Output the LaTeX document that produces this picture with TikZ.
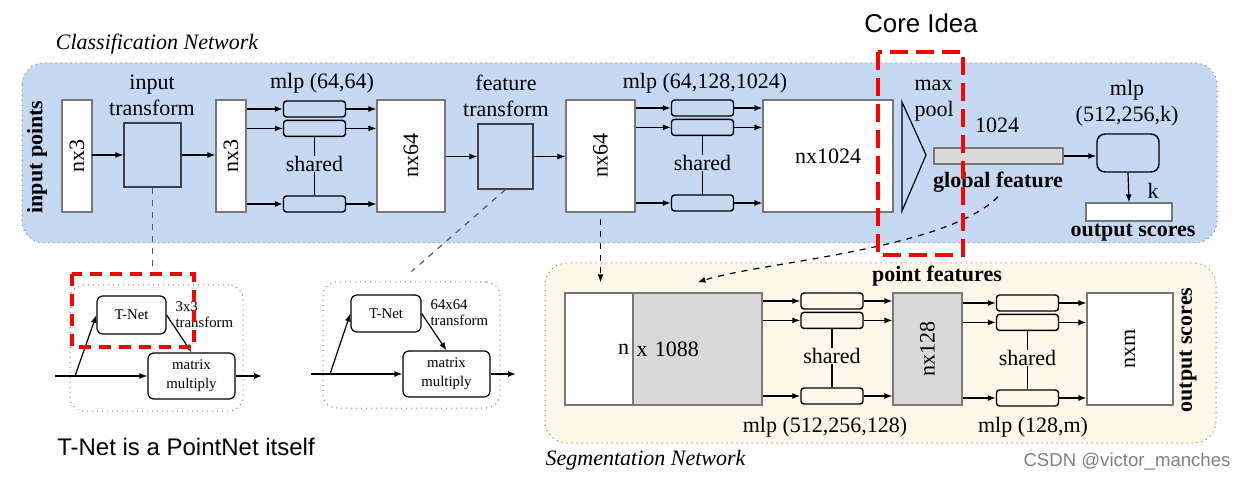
\documentclass[tikz,border=0pt]{standalone}
\usepackage{fontspec}
\setmainfont{Liberation Serif}
\newfontfamily\sansfont{Liberation Sans}
\usepackage{graphicx}
\usetikzlibrary{positioning,arrows.meta}

\definecolor{clsblue}{RGB}{198,217,243}
\definecolor{segbeige}{RGB}{253,248,234}
\definecolor{boxgray}{RGB}{120,120,120}
\definecolor{featgray}{RGB}{217,217,217}
\definecolor{corered}{RGB}{255,0,0}
\definecolor{linkgray}{RGB}{90,90,90}

\tikzset{
  lbl/.style={inner sep=0pt},
  ital/.style={inner sep=0pt, font=\fontsize{11}{13}\selectfont\itshape},
  bld/.style={inner sep=0pt, font=\fontsize{11}{13}\selectfont\bfseries},
  featbox/.style={draw=boxgray, fill=white, line width=0.6pt, inner sep=0pt, minimum height=56pt},
  mlpbox/.style={draw, rounded corners=1.5pt, line width=0.7pt, inner sep=0pt, minimum width=31pt, minimum height=8pt},
  tnetbox/.style={draw, rounded corners=3pt, line width=0.6pt, inner sep=0pt, align=center, font=\fontsize{7.4}{9.5}\selectfont},
  tnlbl/.style={inner sep=0pt, anchor=west, align=left, font=\fontsize{7.4}{8}\selectfont},
  netframe/.style={draw=gray, dotted, line width=0.5pt, rounded corners=11pt},
  tnframe/.style={draw=gray, dotted, line width=0.5pt, rounded corners=7pt, inner sep=0pt},
  coreline/.style={draw=corered, line width=2pt, dash pattern=on 6pt off 4pt},
}

\begin{document}
\begin{tikzpicture}[x=0.5pt, y=-0.5pt, >={Latex[length=4pt,width=3pt]}, line width=0.6pt, font=\fontsize{11}{13}\selectfont]
\useasboundingbox (0,0) rectangle (1246,480);

% the two networks
\draw[netframe, fill=clsblue] (22,63) rectangle (1217,243);
\draw[netframe, fill=segbeige] (545,263) rectangle (1216,443);
\node[ital] (clsname) at (157,44) {Classification Network};
\node[ital, anchor=west] (segname) at (545,460) {Segmentation Network};

% classification
\node[bld, rotate=90] (inpts) at (37,157) {input points};
\node[featbox, minimum width=15pt] (inpA) at (77,156) {\rotatebox{90}{nx3}};
\node[featbox, fill=clsblue, draw=black!75, minimum width=28.5pt, minimum height=32pt] (itrans) at (152.5,155) {};
\node[lbl, align=center] (itranslbl) at (152,95) {input\\transform};
\node[featbox, minimum width=15pt] (inpB) at (231,156) {\rotatebox{90}{nx3}};
\node[featbox, minimum width=34pt] (fsf) at (411,156) {\rotatebox{90}{nx64}};
\node[featbox, fill=clsblue, draw=black!75, minimum width=27.5pt, minimum height=32.5pt] (ftrans) at (505.5,156.5) {};
\node[lbl, align=center] (ftranslbl) at (506,96) {feature\\transform};
\node[featbox, minimum width=34.5pt] (fsfB) at (600.5,156) {\rotatebox{90}{nx64}};
\node[featbox, minimum width=65pt] (fbig) at (828,156) {nx1024};
\node[lbl] (mlpalbl) at (322,83) {mlp (64,64)};
\node[lbl] (mlpblbl) at (705,83) {mlp (64,128,1024)};
\draw[->] (inpA.east) -- (inpA.east |- itrans.west) -- (itrans.west);
\draw[->] (itrans.east) -- (itrans.east -| inpB.west);
\draw[->] (fsf.east |- ftrans.west) -- (ftrans.west);
\draw[->] (ftrans.east) -- (ftrans.east -| fsfB.west);

% max pool and global feature
\draw (902,102) -- (926,155) -- (902,211) -- cycle;
\node[lbl, anchor=west, align=left] (maxpool) at (914,101) {max\\pool};
\node[featbox, fill=featgray, minimum width=64.5pt, minimum height=8pt] (gfeat) at (998.5,156) {};
\node[lbl] (gdim) at (997,125) {1024};
\node[bld] (gname) at (998,182) {global feature};
\node[mlpbox, minimum height=19pt, rounded corners=4pt] (mlpc) at (1128,153) {};
\node[lbl, align=center] (mlpclbl) at (1127,103) {mlp\\(512,256,k)};
\node[featbox, minimum width=43pt, minimum height=9pt] (oscore) at (1129,212) {};
\node[lbl] (kdim) at (1153,191) {k};
\node[bld] (oname) at (1133,233) {output scores};
\draw[->] (gfeat.east) -- (gfeat.east -| mlpc.west);
\draw[->] (mlpc.south) -- (oscore.north);

% segmentation
\node[featbox, minimum width=34pt, text width=30pt, align=right] (catn) at (599,349) {n};
\node[featbox, fill=featgray, minimum width=64.5pt, text width=61pt, align=left] (catg) at (697.5,349) {x 1088};
\node[featbox, fill=featgray, minimum width=34.5pt] (fone) at (927.5,349) {\rotatebox{90}{nx128}};
\node[featbox, minimum width=43pt] (fnxm) at (1130,349) {\rotatebox{90}{nxm}};
\node[bld] (pfeat) at (937,276) {point features};
\node[bld, rotate=90] (segout) at (1188,350) {output scores};
\node[lbl] (mlpdlbl) at (825,427) {mlp (512,256,128)};
\node[lbl] (mlpelbl) at (1033,427) {mlp (128,m)};

% shared mlps
\foreach \g/\x/\y/\src/\dst in {a/314.5/109/inpB/fsf, b/702.5/108/fsfB/fbig, c/832/301/catg/fone, d/1027.5/303/fone/fnxm}
{
  \node[mlpbox] (\g1) at (\x,\y) {};
  \node[mlpbox, below=1pt of \g1] (\g2) {};
  \node[mlpbox] (\g3) at (\x,\y+95) {};
  \node[lbl] (sh\g) at (\x,\y+55) {shared};
  \draw[line width=0.8pt] (\g2.south) -- (sh\g.north);
  \draw[line width=0.8pt] (sh\g.south) -- (\g3.north);
  \foreach \b in {1,2,3}
  {
    \draw[->] (\src.east |- \g\b.west) -- (\g\b.west);
    \draw[->] (\g\b.east) -- (\g\b.east -| \dst.west);
  }
}

% links between the networks
\draw[dashed, ->, shorten <=3pt] (fsfB.south) -- ([yshift=5pt]fsfB.south |- catn.north);
\draw[dashed, ->] ([yshift=-2pt]gname.south) .. controls (945,250) and (760,262) .. ([yshift=5pt]catg.north);

% T-Nets
\node[tnframe, minimum width=86.5pt, minimum height=63pt] (tnf1) at (156.5,348) {};
\node[tnetbox, minimum width=34.5pt, minimum height=19pt] (tnet1) at (131.5,315) {T-Net};
\node[tnetbox, minimum width=43.5pt, minimum height=23pt] (mm1) at (191.5,376) {matrix\\multiply};
\node[tnlbl] (tf1) at (175,315) {3x3\\transform};
\coordinate (in1) at (55,376);
\coordinate (br1) at (75,376);
\coordinate (out1) at (262,376);
\draw[->] (in1) -- (mm1.west);
\draw[->] (br1) -- (tnet1.west);
\draw[->] (tnet1.east) -- (mm1.north);
\draw[->] (mm1.east) -- (out1);

\node[tnframe, minimum width=88.5pt, minimum height=63pt] (tnf2) at (411.5,345) {};
\node[tnetbox, minimum width=35pt, minimum height=18.5pt] (tnet2) at (386,313.5) {T-Net};
\node[tnetbox, minimum width=43.5pt, minimum height=23pt] (mm2) at (446.5,374) {matrix\\multiply};
\node[tnlbl] (tf2) at (430,313) {64x64\\transform};
\coordinate (in2) at (311,374);
\coordinate (br2) at (330,374);
\coordinate (out2) at (516,374);
\draw[->] (in2) -- (mm2.west);
\draw[->] (br2) -- (tnet2.west);
\draw[->] (tnet2.east) -- (mm2.north);
\draw[->] (mm2.east) -- (out2);

\draw[linkgray, dashed, shorten >=6.5pt] (itrans.south) -- (itrans.south |- tnf1.north);
\draw[linkgray, dashed] (ftrans.south) -- ([yshift=5pt]tnf2.north);

% notes
\draw[coreline] (72,274) rectangle (194,347);
\draw[coreline, dash pattern=on 9pt off 4pt] (878,52) rectangle (963,255);
\node[lbl, font=\sansfont\fontsize{12}{14}\selectfont] (tnetnote) at (186,447) {T-Net is a PointNet itself};
\node[lbl, font=\sansfont\fontsize{12.9}{15}\selectfont] (coreidea) at (921,23) {Core Idea};
\node[lbl, font=\sansfont\fontsize{9.3}{11}\selectfont, text=gray] (wmark) at (1127,462) {CSDN @victor\_manches};

\end{tikzpicture}
\end{document}
